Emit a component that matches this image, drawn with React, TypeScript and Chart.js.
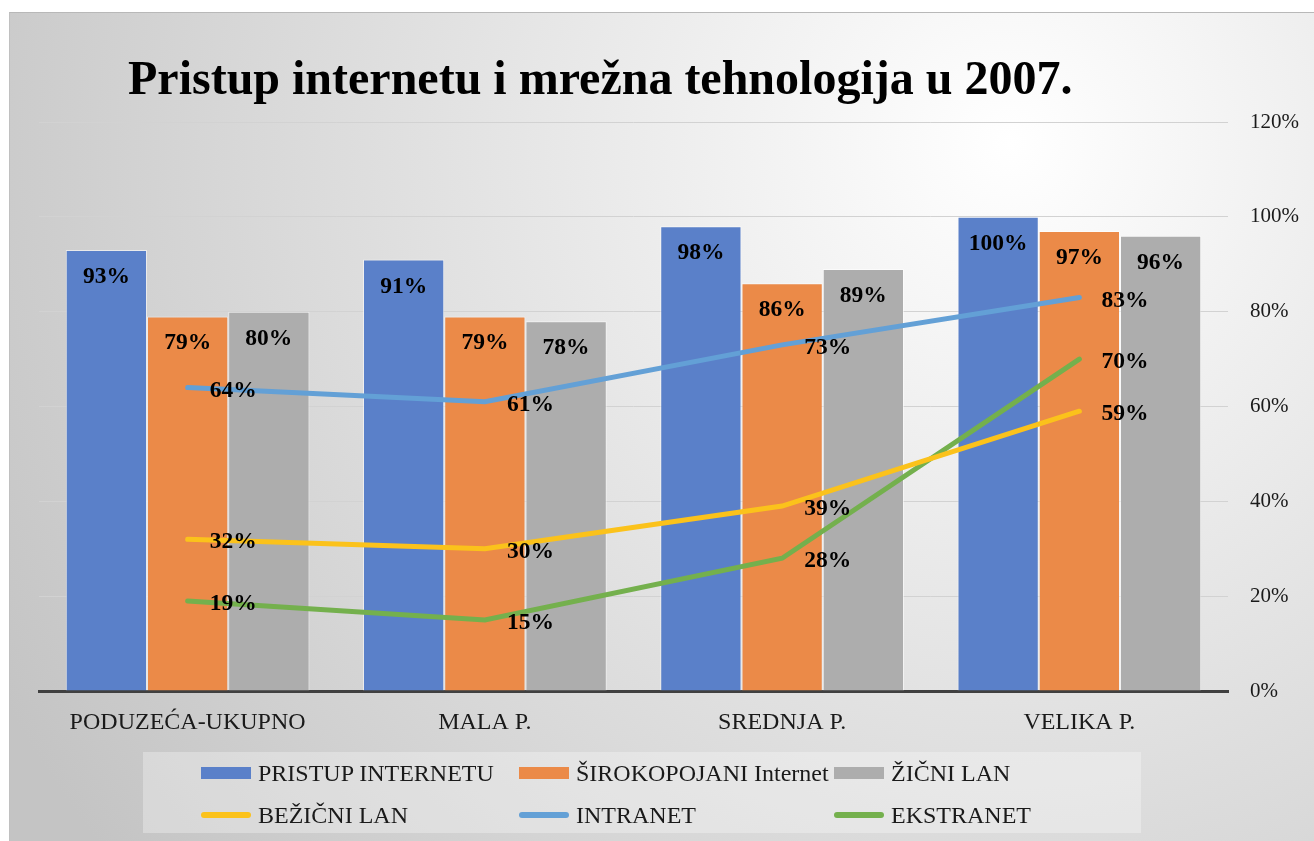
import React, { useEffect, useRef } from "react";
import { Chart, registerables } from "chart.js";

Chart.register(...registerables);

const TITLE = "Pristup internetu i mrežna tehnologija u 2007.";
const categories = ["PODUZEĆA-UKUPNO", "MALA P.", "SREDNJA P.", "VELIKA P."];
const pristupInternetu = [93, 91, 98, 100];
const sirokopojasni = [79, 79, 86, 97];
const zicniLan = [80, 78, 89, 96];
const bezicniLan = [32, 30, 39, 59];
const intranet = [64, 61, 73, 83];
const ekstranet = [19, 15, 28, 70];
const yTicks = [0, 20, 40, 60, 80, 100, 120];

const FONT = "'Liberation Serif', 'Times New Roman', serif";

const legendItems = [
  { label: "PRISTUP INTERNETU", color: "#5a80c9", type: "bar" },
  { label: "ŠIROKOPOJANI Internet", color: "#eb8a48", type: "bar" },
  { label: "ŽIČNI LAN", color: "#adadad", type: "bar" },
  { label: "BEŽIČNI LAN", color: "#fbc21b", type: "line" },
  { label: "INTRANET", color: "#63a0d6", type: "line" },
  { label: "EKSTRANET", color: "#74b04d", type: "line" },
];

const bgPlugin = {
  id: "bg",
  beforeDraw(chart: any) {
    const { ctx, width, height } = chart;
    ctx.save();
    const g = ctx.createRadialGradient(1000, 130, 0, 1000, 130, 1150);
    g.addColorStop(0, "#ffffff");
    g.addColorStop(1, "#c4c4c4");
    ctx.fillStyle = g;
    ctx.fillRect(0, 0, width, height);
    ctx.restore();
  },
};

const titlePlugin = {
  id: "customTitle",
  afterDraw(chart: any) {
    const { ctx } = chart;
    ctx.save();
    ctx.font = `bold 48px ${FONT}`;
    ctx.fillStyle = "#000";
    ctx.textAlign = "left";
    ctx.textBaseline = "alphabetic";
    ctx.fillText(TITLE, 118, 81);
    ctx.restore();
  },
};

const labelPlugin = {
  id: "valueLabels",
  afterDatasetsDraw(chart: any) {
    const { ctx } = chart;
    ctx.save();
    ctx.font = `bold 23.5px ${FONT}`;
    ctx.fillStyle = "#000";
    ctx.textBaseline = "middle";
    chart.data.datasets.forEach((ds: any, i: number) => {
      const meta = chart.getDatasetMeta(i);
      meta.data.forEach((el: any, j: number) => {
        const txt = ds.data[j] + "%";
        if (ds.type === "line") {
          ctx.textAlign = "left";
          ctx.fillText(txt, el.x + 22, el.y + 3);
        } else {
          ctx.textAlign = "center";
          ctx.fillText(txt, el.x, el.y + 27);
        }
      });
    });
    ctx.restore();
  },
};

export default function App() {
  const ref = useRef<HTMLCanvasElement>(null);

  useEffect(() => {
    if (!ref.current) return;
    const chart = new Chart(ref.current, {
      type: "bar",
      data: {
        labels: categories,
        datasets: [
          { type: "bar", label: legendItems[0].label, data: pristupInternetu, backgroundColor: "#5a80c9", borderColor: "rgba(255,255,255,0.55)", borderWidth: 1, order: 2 },
          { type: "bar", label: legendItems[1].label, data: sirokopojasni, backgroundColor: "#eb8a48", borderColor: "rgba(255,255,255,0.55)", borderWidth: 1, order: 2 },
          { type: "bar", label: legendItems[2].label, data: zicniLan, backgroundColor: "#adadad", borderColor: "rgba(255,255,255,0.55)", borderWidth: 1, order: 2 },
          { type: "line", label: legendItems[3].label, data: bezicniLan, borderColor: "#fbc21b", borderWidth: 5, pointRadius: 0, tension: 0, borderCapStyle: "round", order: 1 },
          { type: "line", label: legendItems[4].label, data: intranet, borderColor: "#63a0d6", borderWidth: 5, pointRadius: 0, tension: 0, borderCapStyle: "round", order: 1 },
          { type: "line", label: legendItems[5].label, data: ekstranet, borderColor: "#74b04d", borderWidth: 5, pointRadius: 0, tension: 0, borderCapStyle: "round", order: 1 },
        ] as any,
      },
      options: {
        animation: false,
        responsive: false,
        maintainAspectRatio: false,
        layout: { padding: { left: 29, top: 109, right: 0, bottom: 0 } },
        datasets: { bar: { categoryPercentage: 0.82, barPercentage: 1.0 } } as any,
        plugins: {
          legend: { display: false },
          title: { display: false },
          tooltip: { enabled: false },
        },
        scales: {
          x: {
            grid: { display: false, drawTicks: false },
            border: { display: true, color: "#404040", width: 3 },
            ticks: { color: "#1a1a1a", font: { family: FONT, size: 24 }, padding: 17 },
            afterFit(scale: any) {
              scale.height = 150;
            },
          },
          y: {
            position: "right",
            min: 0,
            max: 120,
            afterBuildTicks(scale: any) {
              scale.ticks = yTicks.map((v) => ({ value: v }));
            },
            grid: { color: "#d2d2d2", lineWidth: 1, drawTicks: false },
            border: { display: false },
            ticks: {
              color: "#1a1a1a",
              font: { family: FONT, size: 21 },
              padding: 22,
              callback: (v: any) => v + "%",
            },
            afterFit(scale: any) {
              scale.width = 86;
            },
          },
        },
      },
      plugins: [bgPlugin, titlePlugin, labelPlugin],
    });
    return () => chart.destroy();
  }, []);

  return (
    <div style={{ position: "absolute", left: 9, top: 12, width: 1305, height: 829, borderTop: "1px solid #b8b8b8", borderLeft: "1px solid #c0c0c0", boxSizing: "border-box" }}>
      <canvas ref={ref} width={1304} height={828} style={{ display: "block", width: 1304, height: 828 }} />
      <div
        style={{
          position: "absolute",
          left: 133,
          top: 739,
          width: 998,
          height: 81,
          background: "rgba(255,255,255,0.3)",
          display: "grid",
          gridTemplateColumns: "318px 315px 316px",
          gridTemplateRows: "42px 42px",
          paddingLeft: 58,
          paddingTop: 0,
          boxSizing: "border-box",
          fontFamily: FONT,
          fontSize: 24,
          color: "#1a1a1a",
        }}
      >
        {legendItems.map((it) => (
          <div key={it.label} style={{ display: "flex", alignItems: "center", whiteSpace: "nowrap" }}>
            <span
              style={{
                display: "inline-block",
                width: 50,
                height: it.type === "bar" ? 12 : 6,
                borderRadius: it.type === "bar" ? 0 : 3,
                background: it.color,
                marginRight: 7,
              }}
            />
            <span>{it.label}</span>
          </div>
        ))}
      </div>
    </div>
  );
}
